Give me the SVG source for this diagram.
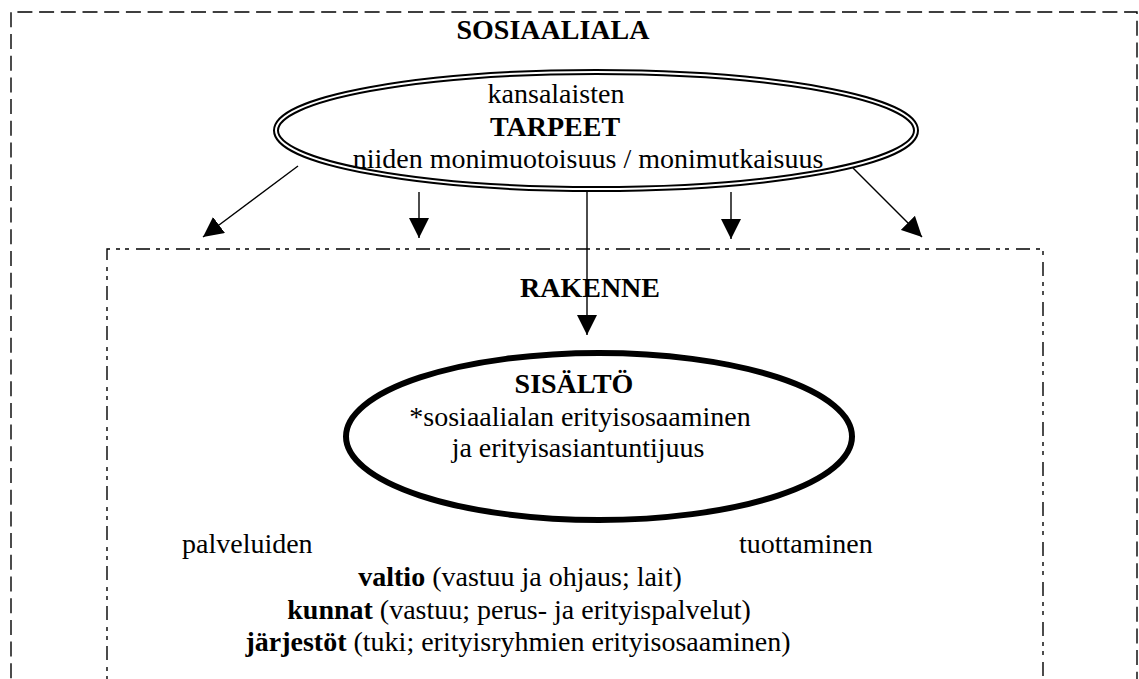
<svg xmlns="http://www.w3.org/2000/svg" width="1139" height="679" viewBox="0 0 1139 679">
<style>
text{font-family:"Liberation Serif","Times New Roman",serif;font-size:28px;fill:#000}
.b{font-weight:bold}
.m{text-anchor:middle}
.outer{fill:none;stroke:#000;stroke-width:1.4;stroke-dasharray:15 6.7}
.inner{fill:none;stroke:#000;stroke-width:1.4;stroke-dasharray:14 6 4 5 4 7}
.conn line{stroke:#000;stroke-width:1.4}
</style>
<defs>
<marker id="ah" markerUnits="userSpaceOnUse" markerWidth="20" markerHeight="20" refX="20" refY="10" orient="auto">
<path d="M0,0 L20,10 L0,20 z" fill="#000"/>
</marker>
</defs>
<rect width="1139" height="679" fill="#fff"/>
<g id="sosiaaliala">
<path class="outer" d="M11,700 V12 H1137 V700"/>
<text class="b m" x="553" y="39">SOSIAALIALA</text>
</g>
<g id="rakenne">
<path class="inner" d="M107,700 V249 H1043 V700"/>
<text class="b m" x="590" y="297">RAKENNE</text>
</g>
<g id="tarpeet">
<ellipse cx="596" cy="130.5" rx="320" ry="58.5" fill="#fff" stroke="#000" stroke-width="6"/>
<ellipse cx="596" cy="130.5" rx="320" ry="58.5" fill="none" stroke="#fff" stroke-width="2"/>
<text class="m" x="556" y="103">kansalaisten</text>
<text class="b m" x="555" y="136">TARPEET</text>
<text class="m" x="588" y="168">niiden monimuotoisuus / monimutkaisuus</text>
</g>
<g id="sisalto">
<ellipse cx="599" cy="436.5" rx="253" ry="83.5" fill="#fff" stroke="#000" stroke-width="6"/>
<text class="b m" x="574" y="393">SISÄLTÖ</text>
<text class="m" x="580" y="426">*sosiaalialan erityisosaaminen</text>
<text class="m" x="578" y="457">ja erityisasiantuntijuus</text>
</g>
<g id="palvelut">
<text x="182" y="553">palveluiden</text>
<text x="739" y="553">tuottaminen</text>
<text class="m" x="520" y="586"><tspan class="b">valtio</tspan> (vastuu ja ohjaus; lait)</text>
<text class="m" x="519" y="619"><tspan class="b">kunnat</tspan> (vastuu; perus- ja erityispalvelut)</text>
<text class="m" x="518" y="651"><tspan class="b">järjestöt</tspan> (tuki; erityisryhmien erityisosaaminen)</text>
</g>
<g id="connectors" class="conn">
<line x1="298" y1="166" x2="203" y2="237" marker-end="url(#ah)"/>
<line x1="419" y1="192" x2="419" y2="238" marker-end="url(#ah)"/>
<line x1="587" y1="192" x2="587" y2="335" marker-end="url(#ah)"/>
<line x1="731" y1="192" x2="731" y2="239" marker-end="url(#ah)"/>
<line x1="853" y1="168" x2="922" y2="237" marker-end="url(#ah)"/>
</g>
</svg>
